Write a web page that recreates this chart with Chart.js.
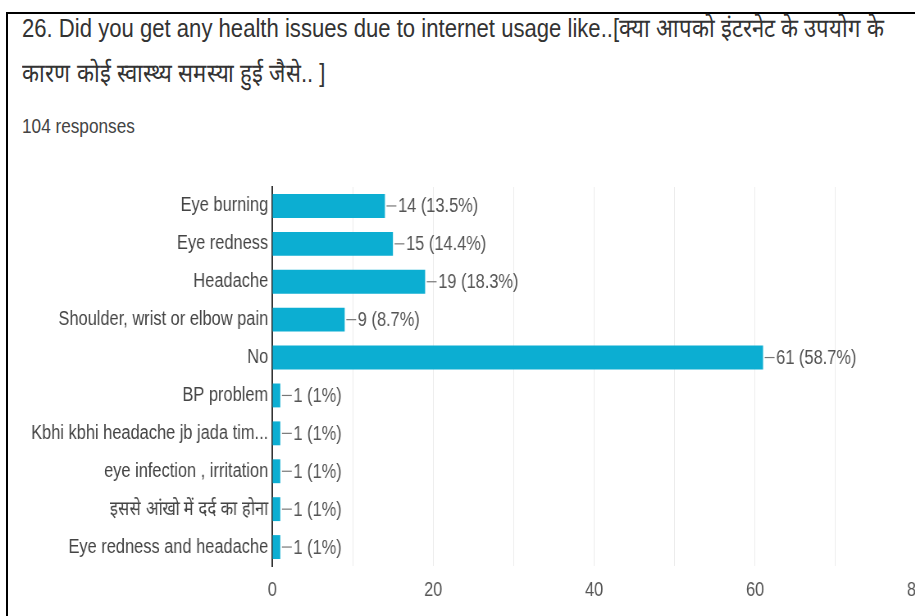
<!DOCTYPE html>
<html>
<head>
<meta charset="utf-8">
<script src="https://cdn.jsdelivr.net/npm/chart.js@4.4.1/dist/chart.umd.min.js"></script>
<style>
  html, body { margin: 0; padding: 0; background: #fff; }
  body { width: 915px; height: 616px; overflow: hidden; position: relative; }
  .frame {
    position: absolute; left: 6px; top: 12px; right: -10px; bottom: -10px;
    border-left: 2px solid #000; border-top: 2px solid #000;
  }
  /* narrow lettering: regular face squeezed sideways */
  .title, .count {
    position: absolute; left: 22px; white-space: nowrap;
    font-family: "Liberation Sans", Arial, sans-serif;
    transform-origin: 0 0;
  }
  .title { top: 6px; font-size: 26px; line-height: 45px; color: #333; transform: scaleX(0.85); }
  .count { top: 115px; font-size: 20px; color: #444; transform: scaleX(0.86); }
  .chart-box {
    position: absolute; left: 0; top: 170px; width: 1150px; height: 446px;
    transform: scaleX(0.82); transform-origin: 0 0;
  }
</style>
</head>
<body>
<div class="frame"></div>
<div class="title">26. Did you get any health issues due to internet usage like..[क्या आपको इंटरनेट के उपयोग के<br>कारण कोई स्वास्थ्य समस्या हुई जैसे.. ]</div>
<div class="count">104 responses</div>
<div class="chart-box"><canvas id="healthChart"></canvas></div>
<script>
const answers = [
  'Eye burning',
  'Eye redness',
  'Headache',
  'Shoulder, wrist or elbow pain',
  'No',
  'BP problem',
  'Kbhi kbhi headache jb jada tim...',
  'eye infection , irritation',
  'इससे आंखो में दर्द का होना',
  'Eye redness and headache'
];
const counts = [14, 15, 19, 9, 61, 1, 1, 1, 1, 1];
const totalResponses = 104;
const xTicks = [0, 20, 40, 60, 80];

const labelFont = '"Liberation Sans", Arial, sans-serif';

// leader line + "n (p%)" next to every bar
const valueLabels = {
  id: 'valueLabels',
  afterDatasetsDraw(chart) {
    const ctx = chart.ctx;
    const meta = chart.getDatasetMeta(0);
    ctx.save();
    ctx.font = '20px ' + labelFont;
    ctx.textBaseline = 'middle';
    meta.data.forEach((bar, i) => {
      const v = counts[i];
      const pct = Math.round(v / totalResponses * 1000) / 10;
      ctx.strokeStyle = '#777';
      ctx.lineWidth = 1.2;
      ctx.beginPath();
      ctx.moveTo(bar.x + 2, bar.y);
      ctx.lineTo(bar.x + 14, bar.y);
      ctx.stroke();
      ctx.fillStyle = '#555';
      ctx.fillText(v + ' (' + pct + '%)', bar.x + 16, bar.y + 1);
    });
    ctx.restore();
  }
};

new Chart(document.getElementById('healthChart'), {
  type: 'bar',
  data: {
    labels: answers,
    datasets: [{
      data: counts,
      backgroundColor: '#0caed2',
      barPercentage: 0.9,
      categoryPercentage: 0.7
    }]
  },
  options: {
    indexAxis: 'y',
    responsive: true,
    maintainAspectRatio: false,
    animation: false,
    layout: { padding: { top: 16, right: 33, bottom: 0, left: 0 } },
    plugins: { legend: { display: false }, tooltip: { enabled: false } },
    scales: {
      x: {
        min: 0,
        max: xTicks[xTicks.length - 1],
        ticks: {
          stepSize: 10,
          padding: 12,
          color: '#555',
          font: { family: labelFont, size: 20 },
          callback: v => xTicks.includes(v) ? String(v) : ''
        },
        grid: { color: '#ececec', drawTicks: false },
        border: { display: false },
        afterFit: s => { s.height = 50; }
      },
      y: {
        ticks: {
          padding: 5,
          color: '#444',
          font: { family: labelFont, size: 20 }
        },
        grid: { drawOnChartArea: false, drawTicks: false },
        border: { color: '#333', width: 2 },
        afterFit: s => { s.width = 332; }
      }
    }
  },
  plugins: [valueLabels]
});
</script>
</body>
</html>
